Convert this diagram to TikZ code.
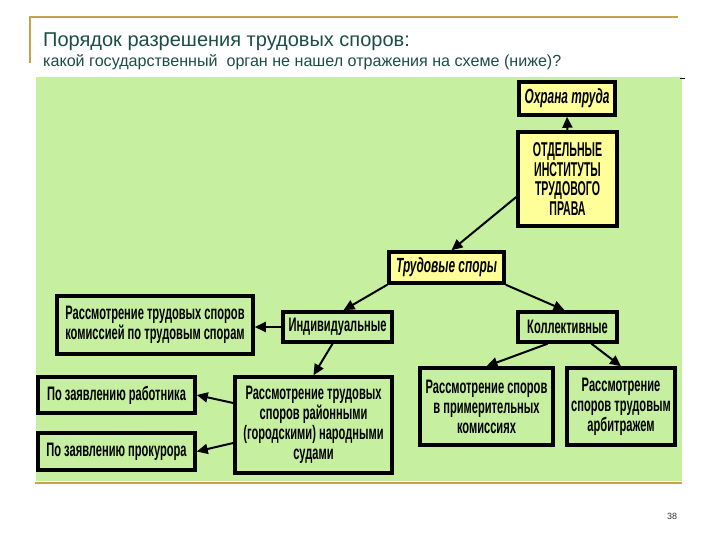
\documentclass[tikz,border=0pt]{standalone}
\usepackage{fontspec}
\setmainfont{Liberation Sans}
\newfontfamily\cond[FakeStretch=0.57]{Liberation Sans}
\newfontfamily\condit[FakeStretch=0.58]{Liberation Sans}
\newfontfamily\condcaps[FakeStretch=0.53]{Liberation Sans}
\usetikzlibrary{arrows.meta}
\definecolor{bggreen}{RGB}{198,240,160}
\definecolor{boxyellow}{RGB}{255,255,153}
\definecolor{goldline}{RGB}{196,164,72}
\definecolor{titleteal}{RGB}{28,78,70}
\tikzset{
  box/.style={draw=black, line width=3.5pt, fill=bggreen, align=center, inner sep=0pt,
    font=\cond\bfseries\fontsize{19.5}{20}\selectfont},
  ybox/.style={box, fill=boxyellow},
  bi/.style={font=\condit\bfseries\itshape\fontsize{20.5}{21}\selectfont},
  arr/.style={line width=2pt, -{Triangle[length=11pt,width=10pt]}},
  goldrule/.style={draw=goldline, line width=2pt}
}
\begin{document}
\begin{tikzpicture}[x=1pt,y=-1pt]
\useasboundingbox (0,0) rectangle (720,540);
\fill[white] (0,0) rectangle (720,540);
% header frame
\draw[goldrule] (30,63) -- (30,17) -- (678,17);
\node[anchor=base west, text=titleteal, font=\fontsize{20}{22}\selectfont, inner sep=0pt] (title) at (43,47) {Порядок разрешения трудовых споров:};
\node[anchor=base west, text=titleteal, font=\fontsize{16.1}{17}\selectfont, inner sep=0pt] (sub) at (43,67) {какой государственный\ \ орган не нашел отражения на схеме (ниже)?};
% green panel
\fill[bggreen] (36,77) rectangle (682,481);
\draw[goldrule] (35,483) -- (682,483);
\draw[black, line width=0.8pt] (680,78) -- (685,78);
% boxes
\node[ybox, bi, minimum width=96pt, minimum height=33pt] (ohr) at (567,98.5) {Охрана труда};
\node[ybox, minimum width=99pt, minimum height=94pt, font=\condcaps\bfseries\fontsize{20}{19.5}\selectfont] (otd) at (567.5,179) {ОТДЕЛЬНЫЕ\\ИНСТИТУТЫ\\ТРУДОВОГО\\ПРАВА};
\node[ybox, bi, minimum width=115pt, minimum height=31pt] (trud) at (446.5,267.5) {Трудовые споры};
\node[box, minimum width=196pt, minimum height=58pt] (kom) at (155,325) {Рассмотрение трудовых споров\\комиссией по трудовым спорам};
\node[box, minimum width=109pt, minimum height=30pt] (ind) at (337.5,327) {Индивидуальные};
\node[box, minimum width=99pt, minimum height=30pt] (kol) at (567.5,327) {Коллективные};
\node[box, minimum width=157pt, minimum height=36pt] (rab) at (116.5,395) {По заявлению работника};
\node[box, minimum width=157pt, minimum height=37pt] (prok) at (116.5,451.5) {По заявлению прокурора};
\node[box, minimum width=157pt, minimum height=96pt] (sudy) at (313.5,425) {Рассмотрение трудовых\\споров районными\\(городскими) народными\\судами};
\node[box, minimum width=133pt, minimum height=77pt] (prim) at (486.5,406.5) {Рассмотрение споров\\в примерительных\\комиссиях};
\node[box, minimum width=108pt, minimum height=77pt] (arb) at (621,406.5) {Рассмотрение\\споров трудовым\\арбитражем};
% connectors
\draw[arr] (otd.north) -- (ohr.south);
\draw[arr] ([yshift=-18pt]otd.west) -- ([xshift=5pt]trud.north);
\draw[arr] (trud.south west) -- ([xshift=6pt]ind.north);
\draw[arr] (trud.south east) -- ([xshift=-3pt]kol.north);
\draw[arr] (ind.west) -- (ind.west -| kom.east);
\draw[arr] ([xshift=-5pt]ind.south) -- (sudy.north);
\draw[arr] ([yshift=22pt]sudy.west) -- (rab.east);
\draw[arr] ([yshift=-18pt]sudy.west) -- (prok.east);
\draw[arr] ([xshift=-20pt]kol.south) -- (prim.north);
\draw[arr] ([xshift=24pt]kol.south) -- (arb.north);
% page number
\node[font=\fontsize{9}{10}\selectfont, text=black!80, inner sep=0pt] (pg) at (672,516) {38};
\end{tikzpicture}
\end{document}
